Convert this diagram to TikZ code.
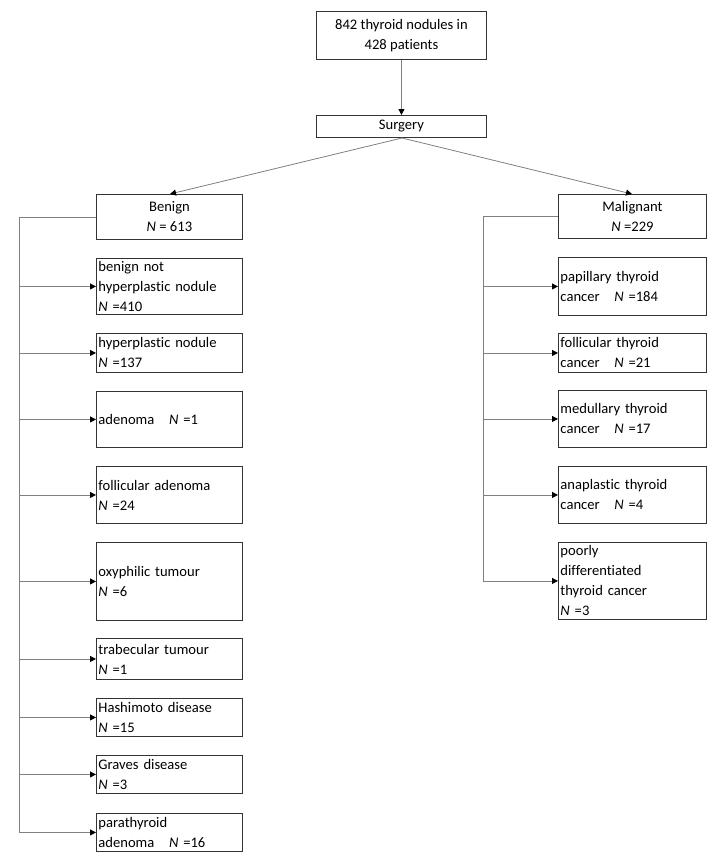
\documentclass[tikz,border=0pt]{standalone}
\usepackage{fontspec}
\setmainfont{Carlito}[Ligatures={NoCommon}]
\usetikzlibrary{arrows.meta}
\begin{document}
\begin{tikzpicture}[x=1pt,y=-1pt,
  box/.style={draw=black!80, line width=0.9pt, inner sep=2pt, anchor=north west,
    font=\fontsize{14.6}{20}\selectfont, text=black},
  lbox/.style={box, align=left, text width=142pt},
  cbox/.style={box, align=center},
  conn/.style={draw=black!50, line width=0.8pt},
  arr/.style={conn, -{Triangle[length=6pt,width=6pt,color=black]}}]
\useasboundingbox (0,0) rectangle (725,862);
% top
\node[cbox, minimum width=170pt, minimum height=48pt] (top) at (316,11) {842 thyroid nodules in\\428 patients};
\node[cbox, minimum width=170pt, minimum height=22pt, inner sep=0pt] (surg) at (316,115) {Surgery};
\node[cbox, minimum width=146pt, minimum height=45pt] (ben) at (96,194) {Benign\\\textit{N} = 613};
\node[cbox, minimum width=148pt, minimum height=44pt] (mal) at (558,194) {Malignant\\\textit{N} =229};
% left column
\node[lbox, minimum height=56pt] (b1) at (96,258) {benign not\\hyperplastic nodule\\\textit{N} =410};
\node[lbox, minimum height=39pt] (b2) at (96,333) {hyperplastic nodule\\\textit{N} =137};
\node[lbox, minimum height=56pt] (b3) at (96,391) {adenoma~~~\textit{N} =1};
\node[lbox, minimum height=57pt] (b4) at (96,466) {follicular adenoma\\\textit{N} =24};
\node[lbox, minimum height=78pt] (b5) at (96,542) {oxyphilic tumour\\\textit{N} =6};
\node[lbox, minimum height=41pt] (b6) at (96,638) {trabecular tumour\\\textit{N} =1};
\node[lbox, minimum height=38pt] (b7) at (96,698) {Hashimoto disease\\\textit{N} =15};
\node[lbox, minimum height=38pt] (b8) at (96,755) {Graves disease\\\textit{N} =3};
\node[lbox, minimum height=38pt] (b9) at (96,813) {parathyroid\\adenoma~~~\textit{N} =16};
% right column
\node[lbox, text width=144pt, minimum height=58pt] (m1) at (558,257) {papillary thyroid\\cancer~~~\textit{N} =184};
\node[lbox, text width=144pt, minimum height=39pt] (m2) at (558,333) {follicular thyroid\\cancer~~~\textit{N} =21};
\node[lbox, text width=144pt, minimum height=57pt] (m3) at (558,390) {medullary thyroid\\cancer~~~\textit{N} =17};
\node[lbox, text width=144pt, minimum height=57pt] (m4) at (558,466) {anaplastic thyroid\\cancer~~~\textit{N} =4};
\node[lbox, text width=144pt, minimum height=77pt] (m5) at (558,542) {poorly\\differentiated\\thyroid cancer\\\textit{N} =3};
% connectors
\draw[arr] (top.south) -- (surg.north);
\coordinate (sb) at (402,138);
\coordinate (bt) at (170,194);
\coordinate (mt) at (632,194);
\draw[arr] (sb) -- (bt);
\draw[arr] (sb) -- (mt);
\draw[conn] (ben.west) -- ++(-77,0) coordinate (ls) -- (ls |- b9.west);
\foreach \n in {b1,b2,b3,b4,b5,b6,b7,b8,b9}
  \draw[arr] (ls |- \n.west) -- (\n.west);
\draw[conn] (mal.west) -- ++(-75,0) coordinate (rs) -- (rs |- m5.west);
\foreach \n in {m1,m2,m3,m4,m5}
  \draw[arr] (rs |- \n.west) -- (\n.west);
\end{tikzpicture}
\end{document}
